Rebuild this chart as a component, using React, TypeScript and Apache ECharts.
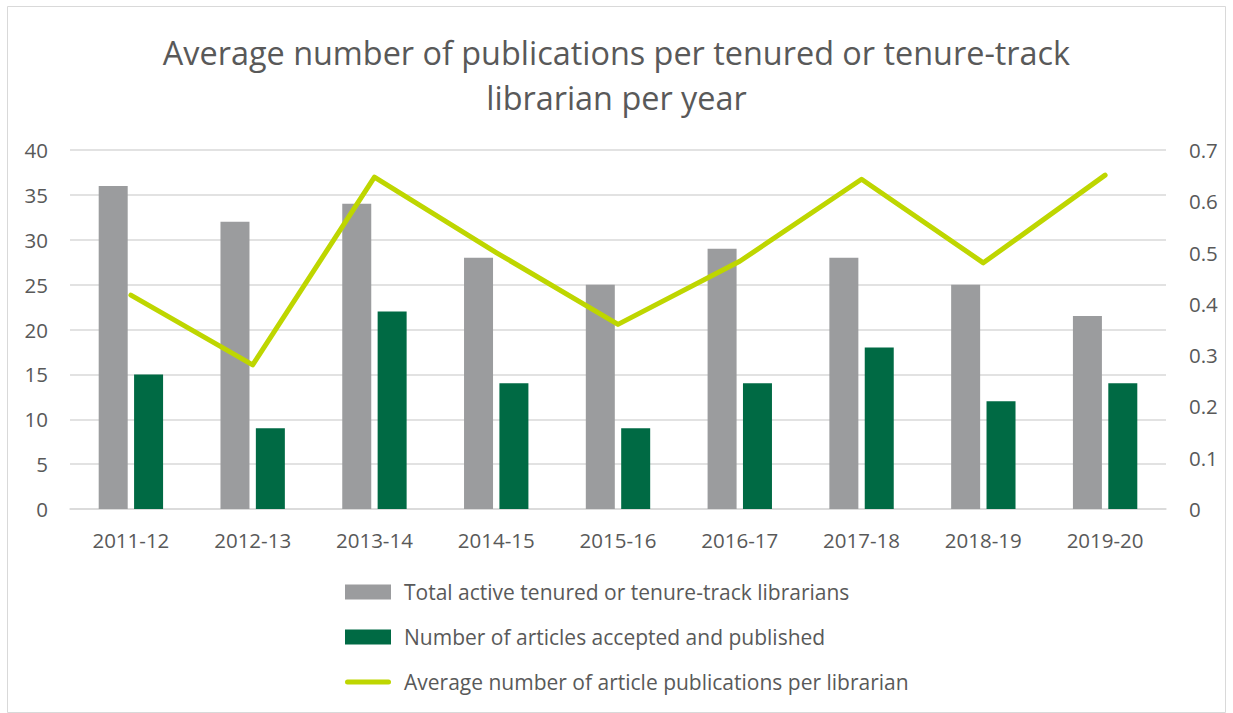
import React, { useEffect, useRef } from "react";
import * as echarts from "echarts";

const categories = ["2011-12", "2012-13", "2013-14", "2014-15", "2015-16", "2016-17", "2017-18", "2018-19", "2019-20"];
const totalLibrarians = [36, 32, 34, 28, 25, 29, 28, 25, 21.5];
const articlesPublished = [15, 9, 22, 14, 9, 14, 18, 12, 14];
const avgPerLibrarian = [0.417, 0.281, 0.647, 0.5, 0.36, 0.483, 0.643, 0.48, 0.651];
const leftTicks = { min: 0, max: 40, interval: 5 };
const rightTicks = { min: 0, max: 0.7, interval: 0.1 };

const FONT = "'Open Sans', 'Liberation Sans', sans-serif";
const TEXT = "#595959";

export default function App() {
  const ref = useRef<HTMLDivElement>(null);
  useEffect(() => {
    if (!ref.current) return;
    const chart = echarts.init(ref.current, null, { renderer: "svg" });
    chart.setOption({
      animation: false,
      backgroundColor: "#fff",
      textStyle: { fontFamily: FONT },
      title: {
        text: "Average number of publications per tenured or tenure-track\nlibrarian per year",
        left: "center",
        top: 29,
        padding: 0,
        textStyle: { fontFamily: FONT, fontSize: 32.4, fontWeight: "normal", color: TEXT, lineHeight: 45 },
      },
      graphic: [
        {
          type: "rect",
          shape: { x: 7.5, y: 6.5, width: 1218, height: 706 },
          style: { fill: "none", stroke: "#d9d9d9", lineWidth: 1 },
          silent: true,
        },
      ],
      grid: { left: 70, right: 67, top: 150, bottom: 204, containLabel: false },
      legend: {
        orient: "vertical",
        left: 345,
        top: 581,
        padding: 0,
        itemWidth: 46,
        itemHeight: 15,
        itemGap: 23,
        textStyle: { fontFamily: FONT, fontSize: 21, color: TEXT, lineHeight: 22, padding: [0, 0, 0, 8] },
        data: [
          { name: "Total active tenured or tenure-track librarians", icon: "rect" },
          { name: "Number of articles accepted and published", icon: "rect" },
          {
            name: "Average number of article publications per librarian",
            icon: "path://M2.5,0 H43.5 A2.5,2.5 0 0 1 43.5,5 H2.5 A2.5,2.5 0 0 1 2.5,0 Z",
          },
        ],
      },
      xAxis: {
        type: "category",
        data: categories,
        axisLine: { lineStyle: { color: "#d9d9d9", width: 1.5 } },
        axisTick: { show: false },
        axisLabel: { color: TEXT, fontSize: 20.5, margin: 20, fontFamily: FONT },
      },
      yAxis: [
        {
          type: "value",
          min: leftTicks.min,
          max: leftTicks.max,
          interval: leftTicks.interval,
          axisLine: { show: false },
          axisTick: { show: false },
          splitLine: { lineStyle: { color: "#d9d9d9", width: 1.5 } },
          axisLabel: { color: TEXT, fontSize: 20.5, margin: 22, fontFamily: FONT },
        },
        {
          type: "value",
          min: rightTicks.min,
          max: rightTicks.max,
          interval: rightTicks.interval,
          axisLine: { show: false },
          axisTick: { show: false },
          splitLine: { show: false },
          axisLabel: { color: TEXT, fontSize: 20.5, margin: 23, fontFamily: FONT },
        },
      ],
      series: [
        {
          name: "Total active tenured or tenure-track librarians",
          type: "bar",
          data: totalLibrarians,
          barWidth: 29,
          barGap: "22%",
          itemStyle: { color: "#9b9c9e" },
        },
        {
          name: "Number of articles accepted and published",
          type: "bar",
          data: articlesPublished,
          barWidth: 29,
          itemStyle: { color: "#006a44" },
        },
        {
          name: "Average number of article publications per librarian",
          type: "line",
          yAxisIndex: 1,
          data: avgPerLibrarian,
          symbol: "none",
          lineStyle: { color: "#bed600", width: 5, cap: "round", join: "round" },
          itemStyle: { color: "#bed600" },
        },
      ],
    });
    return () => chart.dispose();
  }, []);
  return <div ref={ref} style={{ position: "absolute", left: 0, top: 0, width: 1233, height: 713 }} />;
}
